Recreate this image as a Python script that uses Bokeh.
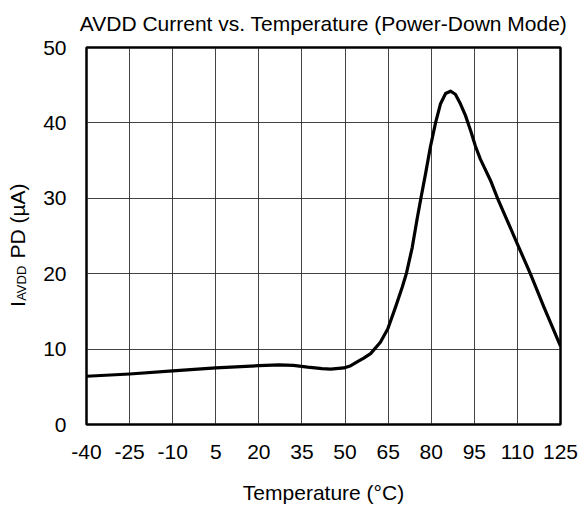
import math
from bokeh.plotting import figure
from bokeh.layouts import row
from bokeh.models import Range1d, FixedTicker, Label, Plot
from bokeh.embed import file_html
from bokeh.resources import INLINE

# ---- data ----
temperature = [-40, -25, -10, 5, 20, 27, 32, 37, 42, 45, 49.6, 52, 54.2, 56.5, 58.9, 62.3,
               64.9, 67.6, 69.9, 71.4, 73.4, 75.1, 76.5, 78.0, 79.7, 81.5, 83.2, 85.0,
               86.7, 88.4, 90.2, 91.9, 93.7, 95.4, 97.1, 100.6, 103.2, 109.7, 114.5,
               119.2, 125]
iavdd_pd = [6.4, 6.7, 7.1, 7.5, 7.8, 7.9, 7.85, 7.6, 7.4, 7.35, 7.5, 7.8, 8.3, 8.8, 9.4, 10.9,
            12.7, 15.6, 18.2, 20.1, 23.5, 27.3, 30.2, 33.2, 36.8, 40.0, 42.5, 43.9,
            44.2, 43.8, 42.5, 41.0, 39.0, 36.9, 35.2, 32.4, 29.9, 24.2, 20.0,
            15.6, 10.4]
x_ticks = [-40, -25, -10, 5, 20, 35, 50, 65, 80, 95, 110, 125]
y_ticks = [0, 10, 20, 30, 40, 50]
title_text = "AVDD Current vs. Temperature (Power-Down Mode)"
x_label = "Temperature (°C)"
y_label_main = "I"
y_label_sub = "AVDD"
y_label_rest = "PD (µA)"

FONT = "Liberation Sans"
FS = "21px"
TOTAL_W, TOTAL_H = 579, 508
LBL_W = 36
Y_MIN, Y_MAX = 0, 50

# ---- narrow strip holding the y-axis label (with subscript) ----
# its frame is aligned with the main frame, so it shares the main chart's y range
lab = Plot(title=None, width=LBL_W, height=TOTAL_H, min_border=0,
           min_border_left=0, min_border_right=0, min_border_top=0, min_border_bottom=0,
           toolbar_location=None, output_backend="svg",
           x_range=Range1d(0, LBL_W), y_range=Range1d(Y_MIN, Y_MAX))
lab.outline_line_color = None
lab.background_fill_color = "white"
lab.border_fill_color = "white"

yl = dict(angle=math.pi / 2, text_align="left", text_baseline="alphabetic",
          text_font=FONT, text_color="black")
lab.add_layout(Label(x=17, y=15.6, text=y_label_main, text_font_size=FS, **yl))
lab.add_layout(Label(x=20.5, y=16.4, text=y_label_sub, text_font_size="13px", **yl))
lab.add_layout(Label(x=17, y=22.0, text=y_label_rest, text_font_size=FS, **yl))

# ---- main chart ----
p = figure(width=TOTAL_W - LBL_W, height=TOTAL_H, output_backend="svg", toolbar_location=None,
           x_range=Range1d(-40, 125), y_range=Range1d(Y_MIN, Y_MAX),
           min_border_left=86 - LBL_W, min_border_right=19, min_border_top=47,
           min_border_bottom=84)
p.background_fill_color = "white"
p.border_fill_color = "white"
p.outline_line_color = "black"
p.outline_line_width = 2.5

p.title.text = title_text
p.title.text_font = FONT
p.title.text_font_size = FS
p.title.text_font_style = "normal"
p.title.text_color = "black"
p.title.align = "center"
p.title.vertical_align = "top"
p.title.standoff = 22

for ax in (p.xaxis[0], p.yaxis[0]):
    ax.axis_line_color = None
    ax.major_tick_line_color = None
    ax.minor_tick_line_color = None
    ax.major_tick_in = 0
    ax.major_tick_out = 0
    ax.minor_tick_in = 0
    ax.minor_tick_out = 0
    ax.major_label_text_font = FONT
    ax.major_label_text_font_size = FS
    ax.major_label_text_color = "black"
    ax.major_label_standoff = 20

p.xaxis.ticker = FixedTicker(ticks=x_ticks)
p.yaxis.ticker = FixedTicker(ticks=y_ticks)
p.xaxis.major_label_overrides = {t: str(t) for t in x_ticks}
p.yaxis.major_label_overrides = {t: str(t) for t in y_ticks}
p.xaxis.axis_label = x_label
p.xaxis.axis_label_text_font = FONT
p.xaxis.axis_label_text_font_size = FS
p.xaxis.axis_label_text_font_style = "normal"
p.xaxis.axis_label_text_color = "black"
p.xaxis.axis_label_standoff = 19

p.xgrid.ticker = FixedTicker(ticks=x_ticks)
p.ygrid.ticker = FixedTicker(ticks=y_ticks)
for g in (p.xgrid[0], p.ygrid[0]):
    g.grid_line_color = "#222222"
    g.grid_line_width = 1
    g.grid_line_alpha = 0.85

p.line(temperature, iavdd_pd, line_color="black", line_width=3.2, line_join="round")

layout = row(lab, p, spacing=0)
open("out.html", "w").write(file_html(layout, INLINE))
